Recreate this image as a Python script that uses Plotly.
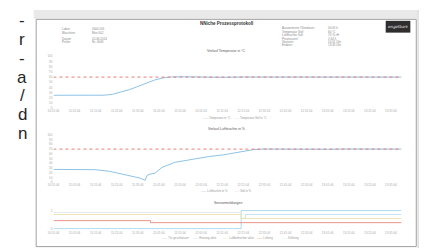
import plotly.graph_objects as go

W, H = 427, 248

# ---------------- data ----------------
tick_minutes = [0, 10, 20, 30, 40, 50, 60, 70, 80, 90, 100, 110, 120, 130, 140, 150, 160]
tick_labels = ["10:51:04", "11:01:04", "11:11:04", "11:21:04", "11:31:04", "11:41:04",
               "11:51:04", "12:01:04", "12:11:04", "12:21:04", "12:31:04", "12:41:04",
               "12:51:04", "13:01:04", "13:11:04", "13:21:04", "13:31:04"]
y_ticks = [0, 10, 20, 30, 40, 50, 60, 70, 80, 90, 100]

temp_t = [0, 6, 12, 18, 24, 28, 32, 36, 40, 44, 48, 52, 56, 62, 70, 80, 90, 100, 110, 120, 130, 140, 150, 160, 165]
temp_val = [25.2, 25.0, 24.9, 25.0, 25.3, 27.0, 31.0, 36.0, 42.0, 48.5, 54.5, 58.5, 60.4, 60.6, 60.0, 59.6, 60.2, 60.0, 60.1, 59.9, 60.2, 60.0, 59.9, 60.1, 60.0]
temp_soll_t = [0, 165]
temp_soll = [60, 60]

hum_t = [0, 10, 19.6, 26.6, 34.1, 40.7, 43.0, 43.5, 44.4, 45.8, 48.1, 50.0, 51.4, 57.5, 65.4, 73.4, 80.8, 88.8, 94.9, 100, 110, 120, 130, 140, 150, 160, 165]
hum_val = [27, 27.2, 26.5, 23, 16, 9, 5, 4, 14.6, 17, 19, 27, 31, 42, 48, 54, 58, 65, 69, 70.2, 69.8, 70.1, 69.7, 70.3, 69.9, 70.1, 70.0]
hum_soll_t = [0, 165]
hum_soll = [70, 70]

sensor_names = ["Tür geschlossen", "Heizung aktiv", "Luftbefeuchter aktiv", "Lüftung", "Kühlung"]
sensor_t = [[0, 89, 89, 165], [89, 91, 91, 165], [0, 89, 89, 165], [0, 46, 46, 165], [0, 89]]
sensor_val = [[0.0, 0.0, 1.0, 1.0], [0.56, 0.56, 0.78, 0.78], [0.78, 0.78, 0.56, 0.56],
              [0.44, 0.44, 0.33, 0.33], [0.89, 0.89]]
sensor_colors = ["#9dd3ee", "#b6dcef", "#eee0a0", "#e47a68", "#dde3e8"]

side_letters = ["-", "r", "-", "a", "/", "d", "n"]

# ---------------- helpers ----------------
def px(x):
    return x / W

def py(y):
    return 1 - y / H

FONT = "Liberation Sans"
BLUE = "#8cc3e6"
RED = "#ea7d74"

fig = go.Figure()

# chart 1
fig.add_trace(go.Scatter(x=temp_t, y=temp_val, mode="lines", line=dict(color=BLUE, width=1),
                         xaxis="x", yaxis="y", showlegend=False))
fig.add_trace(go.Scatter(x=temp_soll_t, y=temp_soll, mode="lines", line=dict(color=RED, width=1, dash="dot"),
                         xaxis="x", yaxis="y", showlegend=False))
# chart 2
fig.add_trace(go.Scatter(x=hum_t, y=hum_val, mode="lines", line=dict(color=BLUE, width=1),
                         xaxis="x2", yaxis="y2", showlegend=False))
fig.add_trace(go.Scatter(x=hum_soll_t, y=hum_soll, mode="lines", line=dict(color=RED, width=1, dash="dot"),
                         xaxis="x2", yaxis="y2", showlegend=False))
# chart 3
for name, tt, vv, col in zip(sensor_names, sensor_t, sensor_val, sensor_colors):
    fig.add_trace(go.Scatter(x=tt, y=vv, mode="lines", line=dict(color=col, width=0.8),
                             xaxis="x3", yaxis="y3", showlegend=False, name=name))

xdom = [px(40), px(393)]
tickfont = dict(family=FONT, size=3, color="#a8a8a8")

def xax(anchor):
    return dict(domain=xdom, range=[0, 165], anchor=anchor, showgrid=False, zeroline=False,
                showline=False, ticks="", tickvals=tick_minutes, ticktext=tick_labels, tickfont=tickfont)

def yax(dom, anchor, rng, tv, tt=None):
    d = dict(domain=dom, range=rng, anchor=anchor, showgrid=False, zeroline=False, showline=False,
             ticks="", tickvals=tv, tickfont=tickfont)
    if tt is not None:
        d["ticktext"] = tt
    return d

shapes = []
# background pieces
shapes.append(dict(type="rect", xref="paper", yref="paper", x0=px(20), x1=1, y0=py(9), y1=1,
                   fillcolor="#e9e9e9", line=dict(width=0), layer="below"))
shapes.append(dict(type="rect", xref="paper", yref="paper", x0=px(409), x1=px(413), y0=0, y1=1,
                   fillcolor="#e2e2e2", line=dict(width=0), layer="below"))
shapes.append(dict(type="rect", xref="paper", yref="paper", x0=px(413), x1=px(416), y0=0, y1=1,
                   fillcolor="#c3c3c3", line=dict(width=0), layer="below"))
shapes.append(dict(type="rect", xref="paper", yref="paper", x0=px(416), x1=1, y0=0, y1=1,
                   fillcolor="#ababab", line=dict(width=0), layer="below"))
shapes.append(dict(type="rect", xref="paper", yref="paper", x0=px(20), x1=px(413), y0=0, y1=py(242),
                   fillcolor="#f1f1f1", line=dict(width=0), layer="below"))
# page
shapes.append(dict(type="rect", xref="paper", yref="paper", x0=px(22.5), x1=px(408), y0=py(240.5), y1=py(9.5),
                   fillcolor="white", line=dict(color="#a0a0a0", width=1), layer="below"))
# logo box
shapes.append(dict(type="rect", xref="paper", yref="paper", x0=px(377), x1=px(402), y0=py(23), y1=py(11),
                   fillcolor="#2e2e2e", line=dict(width=0), layer="below"))

ann = []

def text(x, y, s, size=3, color="#8a8a8a", xanchor="left", bold=False, family=FONT):
    if bold:
        s = "<b>" + s + "</b>"
    ann.append(dict(x=px(x), y=py(y), xref="paper", yref="paper", text=s, showarrow=False,
                    xanchor=xanchor, yanchor="middle", font=dict(family=family, size=size, color=color)))

# left cut-off letters
for ch, yy in zip(side_letters, [10.5, 29.7, 48.9, 68.1, 87.3, 106.5, 125.7]):
    text(8.5, yy, ch, size=17, color="#262626", xanchor="center")

# header
text(216, 14, "NNiche Prozessprotokoll", size=4.5, color="#333333", xanchor="center", bold=True)
left_labels = ["Labor:", "Maschine:", "Datum:", "Prüfer:"]
left_values = ["0000 001", "Mini 002", "20.06.2014", "Nr. 0046"]
for lab, val, yy in zip(left_labels, left_values, [19, 23, 29, 33]):
    text(47, yy, lab, size=3, color="#8a8a8a")
    text(77, yy, val, size=3, color="#8a8a8a")
right_labels = ["Auswertezeit Ofendauer:", "Temperatur Soll:", "Luftfeuchte Soll:", "Prozesszeit:", "Startzeit:", "Endzeit:"]
right_values = ["00:05 h", "60 °C", "70 % rH", "2:44 h", "10:51 Uhr", "13:35 Uhr"]
for lab, val, yy in zip(right_labels, right_values, [18, 22, 25.5, 29, 32.5, 36]):
    text(270, yy, lab, size=3, color="#8a8a8a")
    text(316, yy, val, size=3, color="#8a8a8a")
ann.append(dict(x=px(389.5), y=py(17), xref="paper", yref="paper", text="<i>engelbart</i>", showarrow=False,
                xanchor="center", yanchor="middle", font=dict(family="DejaVu Serif", size=4, color="#eeeeee")))

# chart titles
text(216, 42, "Verlauf Temperatur in °C", size=3.5, color="#555555", xanchor="center")
text(216, 121, "Verlauf Luftfeuchte in %", size=3.5, color="#555555", xanchor="center")
text(217, 196, "Sensormeldungen", size=3.5, color="#555555", xanchor="center")

# legends
def leg(x, y, label, color, dashed=False):
    sym = "- - -" if dashed else "——"
    ann.append(dict(x=px(x), y=py(y), xref="paper", yref="paper",
                    text='<span style="color:%s">%s</span> %s' % (color, sym, label), showarrow=False,
                    xanchor="left", yanchor="middle", font=dict(family=FONT, size=2.8, color="#959595")))

leg(190, 110, "Temperatur in °C", BLUE)
leg(222, 110, "Temperatur Soll in °C", RED, dashed=True)
leg(188, 184, "Luftfeuchte in %", BLUE)
leg(222, 184, "Soll in %", RED, dashed=True)
for name, col, xx in zip(sensor_names, sensor_colors, [148, 180, 210, 244, 270]):
    leg(xx, 232, name, col)

fig.update_layout(
    width=W, height=H, margin=dict(l=0, r=0, t=0, b=0),
    paper_bgcolor="white", plot_bgcolor="rgba(0,0,0,0)",
    showlegend=False,
    xaxis=xax("y"),
    yaxis=yax([py(100), py(47)], "x", [0, 100], y_ticks),
    xaxis2=xax("y2"),
    yaxis2=yax([py(175), py(127)], "x2", [0, 100], y_ticks),
    xaxis3=xax("y3"),
    yaxis3=yax([py(224), py(202)], "x3", [-0.1, 1.1], [0, 1]),
    shapes=shapes,
    annotations=ann,
)

fig.write_html("out.html")
